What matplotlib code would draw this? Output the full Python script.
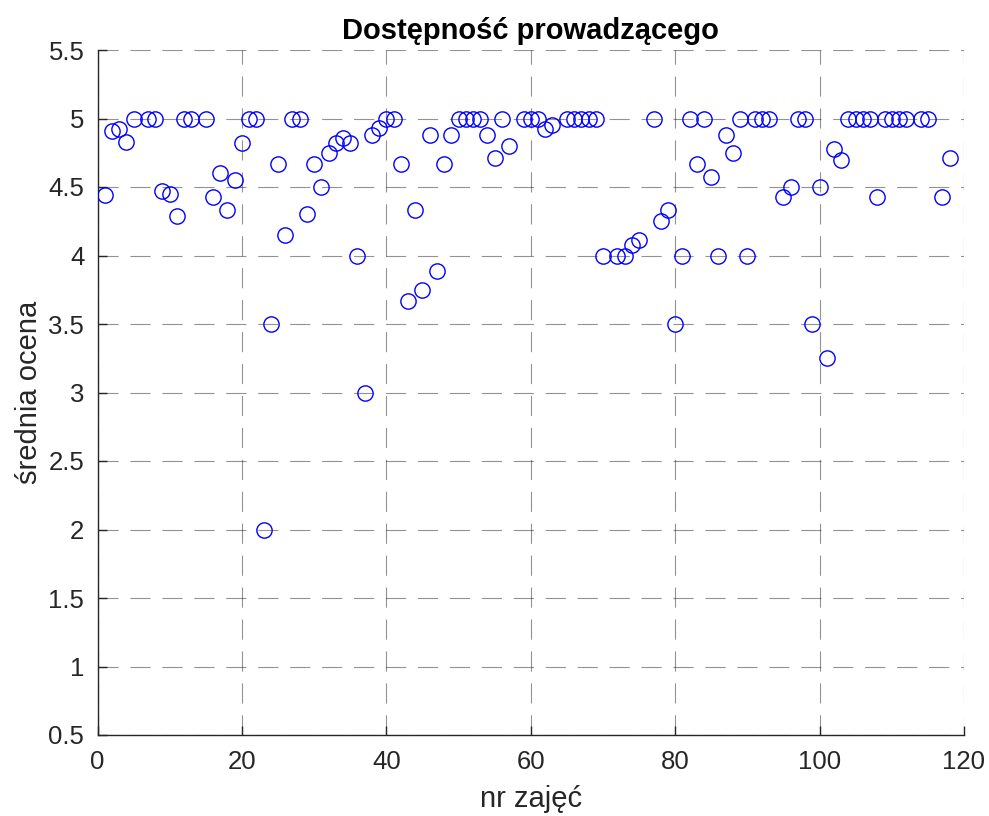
import matplotlib
matplotlib.use('Agg')
import matplotlib.pyplot as plt

# numer zajec i srednia ocena
nr = [1, 2, 3, 4, 5, 7, 8, 9, 10, 11, 12, 13, 15, 16, 17, 18, 19, 20,
      21, 22, 23, 24, 25, 26, 27, 28, 29, 30, 31, 32, 33, 34, 35, 36, 37, 38, 39, 40,
      41, 42, 43, 44, 45, 46, 47, 48, 49, 50, 51, 52, 53, 54, 55, 56, 57, 59, 60,
      61, 62, 63, 65, 66, 67, 68, 69, 70, 72, 73, 74, 75, 77, 78, 79, 80,
      81, 82, 83, 84, 85, 86, 87, 88, 89, 90, 91, 92, 93, 95, 96, 97, 98, 99, 100,
      101, 102, 103, 104, 105, 106, 107, 108, 109, 110, 111, 112, 114, 115, 117, 118]
ocena = [4.44, 4.91, 4.92, 4.83, 5.0, 5.0, 5.0, 4.47, 4.45, 4.29, 5.0, 5.0, 5.0, 4.43, 4.6, 4.33, 4.55, 4.82,
         5.0, 5.0, 2.0, 3.5, 4.67, 4.15, 5.0, 5.0, 4.3, 4.67, 4.5, 4.75, 4.82, 4.86, 4.82, 4.0, 3.0, 4.88, 4.93, 5.0,
         5.0, 4.67, 3.67, 4.33, 3.75, 4.88, 3.89, 4.67, 4.88, 5.0, 5.0, 5.0, 5.0, 4.88, 4.71, 5.0, 4.8, 5.0, 5.0,
         5.0, 4.92, 4.95, 5.0, 5.0, 5.0, 5.0, 5.0, 4.0, 4.0, 4.0, 4.08, 4.11, 5.0, 4.25, 4.33, 3.5,
         4.0, 5.0, 4.67, 5.0, 4.57, 4.0, 4.88, 4.75, 5.0, 4.0, 5.0, 5.0, 5.0, 4.43, 4.5, 5.0, 5.0, 3.5, 4.5,
         3.25, 4.78, 4.7, 5.0, 5.0, 5.0, 5.0, 4.43, 5.0, 5.0, 5.0, 5.0, 5.0, 5.0, 4.43, 4.71]

xticks = [0, 20, 40, 60, 80, 100, 120]
yticks = [0.5, 1, 1.5, 2, 2.5, 3, 3.5, 4, 4.5, 5, 5.5]

plt.rcParams['font.family'] = ['Liberation Sans', 'DejaVu Sans']
plt.rcParams['lines.scale_dashes'] = False
txt = '#262626'

fig = plt.figure(figsize=(9.89, 8.16), dpi=100)
ax = fig.add_axes([97.5/989, 1-735/816, (964-97.5)/989, (735-50)/816])

ax.plot(nr, ocena, 'o', mfc='none', mec='blue', ms=11, mew=1.0, zorder=3)

ax.set_xlim(0, 120)
ax.set_ylim(0.5, 5.5)
ax.set_xticks(xticks)
ax.set_xticklabels([str(t) for t in xticks])
ax.set_yticks(yticks)
ax.set_yticklabels(['%g' % t for t in yticks])

ax.grid(True, linestyle=(0, (14.5, 8.5)), color='#262626', alpha=0.5, linewidth=0.8, zorder=0)
ax.spines['top'].set_visible(False)
ax.spines['right'].set_visible(False)
for s in ['left', 'bottom']:
    ax.spines[s].set_color(txt)
    ax.spines[s].set_linewidth(1.0)
ax.tick_params(direction='in', length=6.5, width=1.0, colors=txt, labelsize=18.5)
ax.tick_params(axis='y', pad=9.5)
ax.tick_params(axis='x', pad=10.5)

ax.set_xlabel('nr zajęć', fontsize=21, color=txt, labelpad=8)
ax.set_ylabel('średnia ocena', fontsize=21, color=txt, labelpad=4)
ax.set_title('Dostępność prowadzącego', fontsize=21, fontweight='bold', color='black', pad=8)

fig.savefig('out.png', dpi=100)
